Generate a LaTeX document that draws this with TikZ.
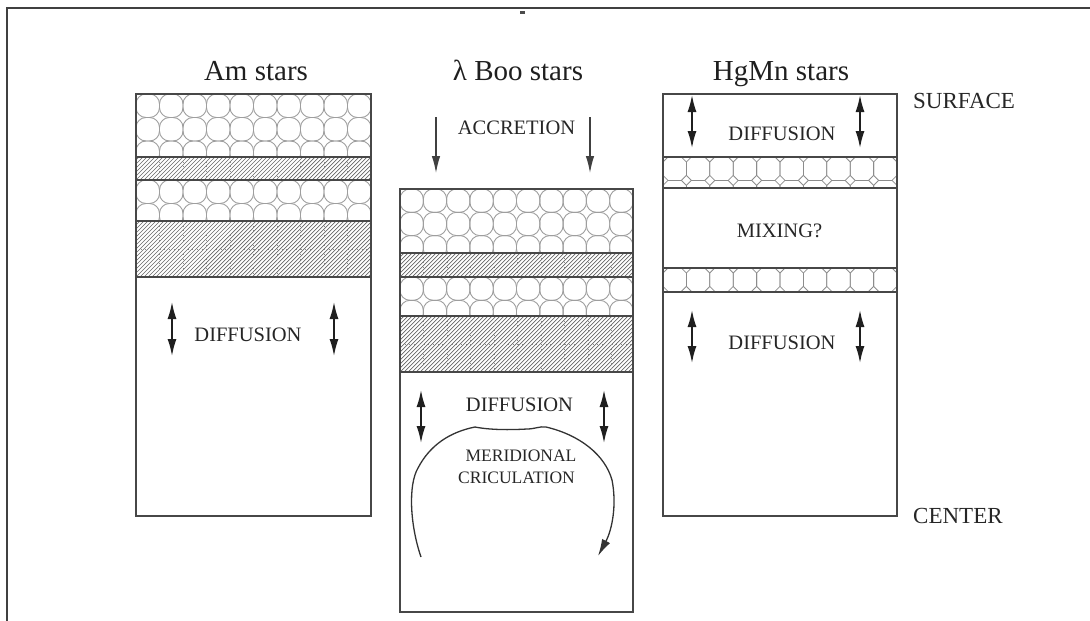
\documentclass[tikz,border=0pt]{standalone}
\usepackage{fontspec}
\setmainfont{Liberation Serif}
\usetikzlibrary{arrows.meta}

% layer fillings, all clipped to the band (x0,y0)-(x1,y1)
\newcommand\celllayer[4]{%
  \begin{scope}
    \clip (#1,#2) rectangle (#3,#4);
    \pgfmathsetmacro\cw{(#3-#1)/10}
    \foreach \i in {0,...,9}
      \foreach \j in {0,...,2}
        \draw[cellline] ({#1+\i*\cw},{#2+\j*\cw}) rectangle ++(\cw,\cw);
  \end{scope}}
\newcommand\hatchlayer[4]{%
  \begin{scope}
    \clip (#1,#2) rectangle (#3,#4);
    \foreach \k in {0,...,76}
      \draw[hatchline] ({#1-60+\k*4},#4) -- ++(60,-60);
    \foreach \i in {1,...,9}
      \draw[tileseam] ({#1+\i*23.5},#2) -- ({#1+\i*23.5},#4);
  \end{scope}}
\newcommand\octlayer[4]{%
  \begin{scope}
    \clip (#1,#2) rectangle (#3,#4);
    \foreach \i in {0,...,9}
      \foreach \j in {0,1}
        \draw[octline] ({#1+11.7+\i*23.4},{#2+11.7+\j*23.4})
          +(-6.7,-11.7) -- +(6.7,-11.7) -- +(11.7,-6.7) -- +(11.7,6.7)
          -- +(6.7,11.7) -- +(-6.7,11.7) -- +(-11.7,6.7) -- +(-11.7,-6.7) -- cycle;
  \end{scope}}

\begin{document}
\begin{tikzpicture}[x=1pt,y=-1pt,
  outline/.style={draw=black!72, line width=1.4pt},
  cellline/.style={draw=black!38, line width=0.9pt, rounded corners=10pt},
  hatchline/.style={draw=black!60, line width=0.7pt},
  tileseam/.style={draw=black!45, line width=0.6pt, dash pattern=on 0.7pt off 4pt},
  octline/.style={draw=black!45, line width=0.8pt},
  tag/.style={text=black!85, inner sep=0pt, anchor=base, font=\fontsize{20.5}{24}\selectfont},
  smalltag/.style={text=black!85, inner sep=0pt, anchor=base, font=\fontsize{17.5}{21}\selectfont},
  heading/.style={text=black!88, inner sep=0pt, anchor=base, font=\fontsize{29}{34}\selectfont},
  edgeword/.style={text=black!85, inner sep=0pt, anchor=base west, font=\fontsize{23}{27}\selectfont},
  updown/.style={draw=black!88, line width=1.6pt, {Latex[length=17pt,width=9pt]}-{Latex[length=17pt,width=9pt]}},
  infall/.style={draw=black!75, line width=1.2pt, -{Latex[length=17pt,width=8.5pt]}},
  flow/.style={draw=black!80, line width=1.3pt, -{Latex[length=17pt,width=9pt]}},
]
\useasboundingbox (0,0) rectangle (1090,621);

% page frame
\draw[draw=black!75, line width=1.2pt] (1090,8) -- (7,8) -- (7,621);
\fill[black!70] (520,10.5) rectangle (525,13.5);

% ---------- Am stars ----------
\celllayer{136}{94}{371}{157}
\hatchlayer{136}{157}{371}{180}
\celllayer{136}{180}{371}{221}
\hatchlayer{136}{221}{371}{277}
\draw[tileseam] (136,249) -- (371,249);
\foreach \y in {157,180,221,277} \draw[outline] (136,\y) -- (371,\y);
\draw[outline] (136,94) rectangle (371,516);

% ---------- lambda Boo stars ----------
\celllayer{400}{189}{633}{253}
\hatchlayer{400}{253}{633}{277}
\celllayer{400}{277}{633}{316}
\hatchlayer{400}{316}{633}{372}
\draw[tileseam] (400,344) -- (633,344);
\foreach \y in {253,277,316,372} \draw[outline] (400,\y) -- (633,\y);
\draw[outline] (400,189) rectangle (633,612);

% ---------- HgMn stars ----------
\octlayer{663}{157}{897}{188}
\octlayer{663}{268}{897}{292}
\foreach \y in {157,188,268,292} \draw[outline] (663,\y) -- (897,\y);
\draw[outline] (663,94) rectangle (897,516);

% ---------- texts ----------
\node[heading] (tAm)  at (256,80) {Am stars};
\node[heading] (tBoo) at (518,80) {λ Boo stars};
\node[heading] (tHg)  at (781,80) {HgMn stars};
\node[edgeword] (surf) at (913,108) {SURFACE};
\node[edgeword] (cent) at (913,523) {CENTER};

\node[tag] (dAm)  at (248,341) {DIFFUSION};
\node[tag] (acc)  at (516.5,134) {ACCRETION};
\node[tag] (dBoo) at (519.5,411) {DIFFUSION};
\node[smalltag] (mer)  at (521,461) {MERIDIONAL};
\node[smalltag] (cric) at (516.5,483) {CRICULATION};
\node[tag] (dHgA) at (782,140) {DIFFUSION};
\node[tag] (mix)  at (779.5,237) {MIXING?};
\node[tag] (dHgB) at (782,349) {DIFFUSION};

% ---------- arrow end points ----------
\coordinate (am1t) at (172,302); \coordinate (am1b) at (172,356);
\coordinate (am2t) at (334,302); \coordinate (am2b) at (334,356);
\coordinate (ac1t) at (436,117); \coordinate (ac1b) at (436,173);
\coordinate (ac2t) at (590,117); \coordinate (ac2b) at (590,173);
\coordinate (bo1t) at (421,390); \coordinate (bo1b) at (421,443);
\coordinate (bo2t) at (604,390); \coordinate (bo2b) at (604,443);
\coordinate (hg1t) at (692,95);  \coordinate (hg1b) at (692,148);
\coordinate (hg2t) at (860,95);  \coordinate (hg2b) at (860,148);
\coordinate (hg3t) at (692,310); \coordinate (hg3b) at (692,363);
\coordinate (hg4t) at (860,310); \coordinate (hg4b) at (860,363);
\coordinate (circS) at (421,557);
\coordinate (circE) at (598,556);

\draw[updown] (am1t) -- (am1b);
\draw[updown] (am2t) -- (am2b);
\draw[infall] (ac1t) -- (ac1b);
\draw[infall] (ac2t) -- (ac2b);
\draw[updown] (bo1t) -- (bo1b);
\draw[updown] (bo2t) -- (bo2b);
\draw[updown] (hg1t) -- (hg1b);
\draw[updown] (hg2t) -- (hg2b);
\draw[updown] (hg3t) -- (hg3b);
\draw[updown] (hg4t) -- (hg4b);

% meridional circulation loop
\draw[flow] (circS) .. controls (410,525) and (408,485) .. (418,468)
  .. controls (430,445) and (450,432) .. (475,427)
  .. controls (490,430) and (510,430) .. (527,429)
  .. controls (535,429) and (540,426) .. (546,427)
  .. controls (580,435) and (605,455) .. (612,480)
  .. controls (617,505) and (612,530) .. (circE);
\end{tikzpicture}
\end{document}
